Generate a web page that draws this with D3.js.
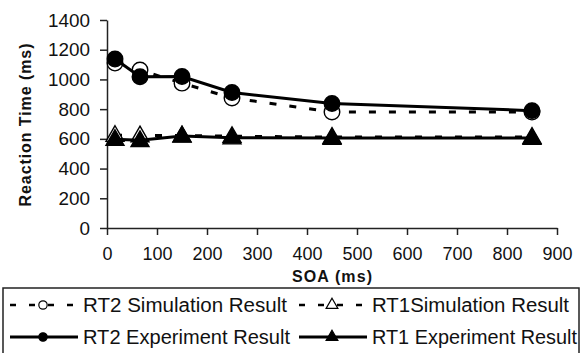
<!DOCTYPE html>
<html lang="en">
<head>
<meta charset="UTF-8">
<title>RT vs SOA</title>
<script src="https://d3js.org/d3.v7.min.js"></script>
<style>
  body { margin: 0; background: #fff; }
  text { font-family: "Liberation Sans", Arial, sans-serif; fill: #111; }
  .domain, .tick line { stroke: #222; stroke-width: 1.5px; }
  .axis text { font-size: 19px; }
</style>
</head>
<body>
<script>
// data
const soa = [16, 66, 150, 250, 450, 850];
const rt2Sim = [1110, 1063, 975, 875, 781, 780];
const rt1Sim = [625, 622, 622, 618, 612, 612];
const rt2Exp = [1137, 1018, 1020, 912, 838, 790];
const rt1Exp = [598, 590, 620, 608, 605, 605];
const xTicks = [0, 100, 200, 300, 400, 500, 600, 700, 800, 900];
const yTicks = [0, 200, 400, 600, 800, 1000, 1200, 1400];

const width = 582, height = 353;
const svg = d3.select("body").append("svg")
    .attr("width", width).attr("height", height);

const x = d3.scaleLinear().domain([0, 900]).range([107, 557]);
const y = d3.scaleLinear().domain([0, 1400]).range([228, 20]);

// axes
const yAxis = svg.append("g")
    .attr("class", "axis")
    .attr("transform", "translate(107,0)")
    .call(d3.axisLeft(y).tickValues(yTicks).tickFormat(d3.format("d"))
      .tickSize(7).tickSizeOuter(0).tickPadding(10));
yAxis.selectAll(".tick text")
    .attr("textLength", d => String(d).length * 10.5)
    .attr("lengthAdjust", "spacingAndGlyphs");

const xAxis = svg.append("g")
    .attr("class", "axis")
    .attr("transform", "translate(0,228)")
    .call(d3.axisBottom(x).tickValues(xTicks).tickFormat(d3.format("d"))
      .tickSize(7).tickSizeOuter(0).tickPadding(12));
xAxis.selectAll(".tick text")
    .attr("textLength", d => String(d).length * 10)
    .attr("lengthAdjust", "spacingAndGlyphs");

svg.append("text")
    .attr("transform", "translate(31,125) rotate(-90)")
    .attr("text-anchor", "middle")
    .attr("textLength", 163).attr("lengthAdjust", "spacing")
    .style("font-size", "16px").style("font-weight", "bold")
    .text("Reaction Time (ms)");

svg.append("text")
    .attr("x", 332).attr("y", 282)
    .attr("text-anchor", "middle")
    .attr("textLength", 80).attr("lengthAdjust", "spacing")
    .style("font-size", "16px").style("font-weight", "bold")
    .text("SOA (ms)");

const line = d3.line().x(d => x(d[0])).y(d => y(d[1]));
const zip = vals => soa.map((s, i) => [s, vals[i]]);

const series = [
  { vals: rt2Sim, dash: "7,13", width: 3, marker: "circle", fill: "#fff" },
  { vals: rt1Sim, dash: "7,13", width: 3, marker: "triangle", fill: "#fff" },
  { vals: rt2Exp, dash: null, width: 3, marker: "circle", fill: "#000" },
  { vals: rt1Exp, dash: null, width: 3, marker: "triangle", fill: "#000" }
];

const triSym = d3.symbol().type(d3.symbolTriangle).size(140);
const cirSym = d3.symbol().type(d3.symbolCircle).size(190);

function drawMarker(g, kind, fill, cx, cy) {
  g.append("path")
    .attr("d", kind === "circle" ? cirSym() : triSym())
    .attr("transform", `translate(${cx},${cy + (kind === "triangle" ? 1 : 0)})`)
    .attr("fill", fill)
    .attr("stroke", "#000")
    .attr("stroke-width", 1.4);
}

series.forEach(s => {
  svg.append("path")
    .datum(zip(s.vals))
    .attr("d", line)
    .attr("fill", "none")
    .attr("stroke", "#000")
    .attr("stroke-width", s.width)
    .attr("stroke-dasharray", s.dash);
  const g = svg.append("g");
  zip(s.vals).forEach(d => drawMarker(g, s.marker, s.fill, x(d[0]), y(d[1])));
});

// legend
svg.append("rect")
    .attr("x", 3).attr("y", 288).attr("width", 576).attr("height", 68)
    .attr("fill", "none").attr("stroke", "#222").attr("stroke-width", 1.5);

const legendItems = [
  { label: "RT2 Simulation Result", s: series[0], lx: 10, ly: 305, tx: 83, tw: 204 },
  { label: "RT1Simulation Result", s: series[1], lx: 299, ly: 305, tx: 372, tw: 197 },
  { label: "RT2 Experiment Result", s: series[2], lx: 10, ly: 337, tx: 83, tw: 207 },
  { label: "RT1 Experiment Result", s: series[3], lx: 299, ly: 337, tx: 372, tw: 205 }
];

legendItems.forEach(it => {
  const g = svg.append("g");
  g.append("line")
    .attr("x1", it.lx).attr("x2", it.lx + 68)
    .attr("y1", it.ly).attr("y2", it.ly)
    .attr("stroke", "#000")
    .attr("stroke-width", it.s.dash ? 2.5 : 3)
    .attr("stroke-dasharray", it.s.dash ? "6,13" : null);
  const mk = it.s.marker === "circle" ? d3.symbol().type(d3.symbolCircle).size(55)
                                       : d3.symbol().type(d3.symbolTriangle).size(60);
  g.append("path")
    .attr("d", mk())
    .attr("transform", `translate(${it.lx + 33},${it.ly})`)
    .attr("fill", it.s.fill).attr("stroke", "#000").attr("stroke-width", 1.2);
  g.append("text")
    .attr("x", it.tx).attr("y", it.ly + 7)
    .attr("textLength", it.tw).attr("lengthAdjust", "spacingAndGlyphs")
    .style("font-size", "19.5px")
    .text(it.label);
});
</script>
</body>
</html>
